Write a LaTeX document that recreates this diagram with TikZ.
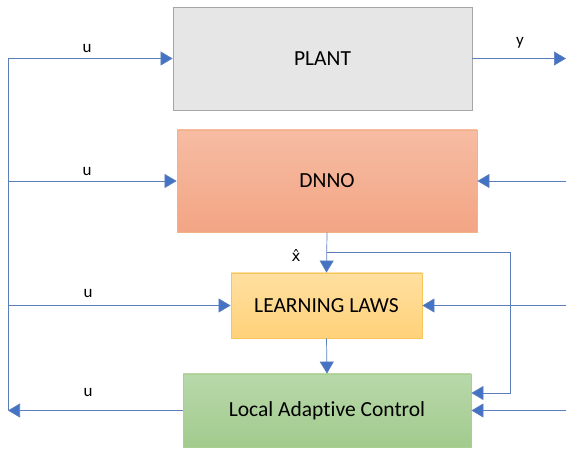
\documentclass[tikz,border=0pt]{standalone}
\usepackage{fontspec}
\setmainfont{Carlito}[Ligatures=NoCommon]
\newfontfamily\markfont{DejaVu Sans}
\usetikzlibrary{arrows.meta,positioning,calc}

\definecolor{lineblue}{HTML}{5B7EBB}
\definecolor{arrowblue}{HTML}{4472C4}

\begin{document}
\begin{tikzpicture}[x=1pt, y=-1pt,
        >={Triangle[length=12pt,width=14pt,fill=arrowblue]},
        wire/.style={draw=lineblue, line width=0.7pt},
        block/.style={line width=0.8pt, inner sep=0pt, font=\fontsize{21.5}{25}\selectfont},
        sig/.style={inner sep=0pt, font=\fontsize{17}{20}\selectfont}]
        \useasboundingbox (0,0) rectangle (566,449);
        % Blocks
        \node [block, draw={rgb,255:red,166;green,166;blue,166}, fill={rgb,255:red,231;green,230;blue,230},
            minimum width=299pt, minimum height=103pt] (plant) at (322.5,58.5) {PLANT};
        \node [block, draw={rgb,255:red,244;green,177;blue,131},
            top color={rgb,255:red,246;green,188;blue,163}, bottom color={rgb,255:red,243;green,165;blue,132},
            minimum width=300pt, minimum height=102pt] (dnno) at (327,181) {DNNO};
        \node [block, draw={rgb,255:red,246;green,198;blue,91},
            top color={rgb,255:red,255;green,223;blue,160}, bottom color={rgb,255:red,255;green,210;blue,122},
            minimum width=191pt, minimum height=65pt] (ll) at (326.5,305.5) {LEARNING LAWS};
        \node [block, draw={rgb,255:red,169;green,208;blue,142},
            top color={rgb,255:red,184;green,216;blue,170}, bottom color={rgb,255:red,162;green,203;blue,142},
            minimum width=288pt, minimum height=73pt] (lac) at (327,410.5) {Local Adaptive Control};

        % Ends of the wires
        \coordinate (lt) at (8,58.5);
        \coordinate (lb) at (8,410.5);
        \coordinate (ry) at (566,58.5);
        \coordinate (split) at (327,252);
        \coordinate (fbr) at (510,393);

        % Left side
        \draw [wire] (lt) -- (lb);
        \draw [wire, ->] (lt) -- (plant.west);
        \draw [wire, ->] (lt |- dnno.west) -- (dnno.west);
        \draw [wire, ->] (lt |- ll.west) -- (ll.west);
        \draw [wire, ->] (lac.west) -- (lb);

        % Right side
        \draw [wire, ->] (plant.east) -- (ry);
        \draw [wire, ->] (ry |- dnno.east) -- (dnno.east);
        \draw [wire, ->] (ry |- ll.east) -- (ll.east);
        \draw [wire, ->] (ry |- lac.east) -- (lac.east);

        % Middle
        \draw [wire, ->] (dnno.south) -- (ll.north);
        \draw [wire, ->] (ll.south) -- (lac.north);
        \draw [wire, ->] (split) -| (fbr) -- (fbr -| lac.east);

        % Labels
        \node [sig] (u1) at (87,49) {u};
        \node [sig] (u2) at (87,172) {u};
        \node [sig] (u3) at (88,294) {u};
        \node [sig] (u4) at (88,393) {u};
        \node [sig] (yout) at (520,43) {y};
        \node [sig, font=\markfont\fontsize{15}{18}\selectfont] (xhat) at (296,256) {x̂};
\end{tikzpicture}
\end{document}
